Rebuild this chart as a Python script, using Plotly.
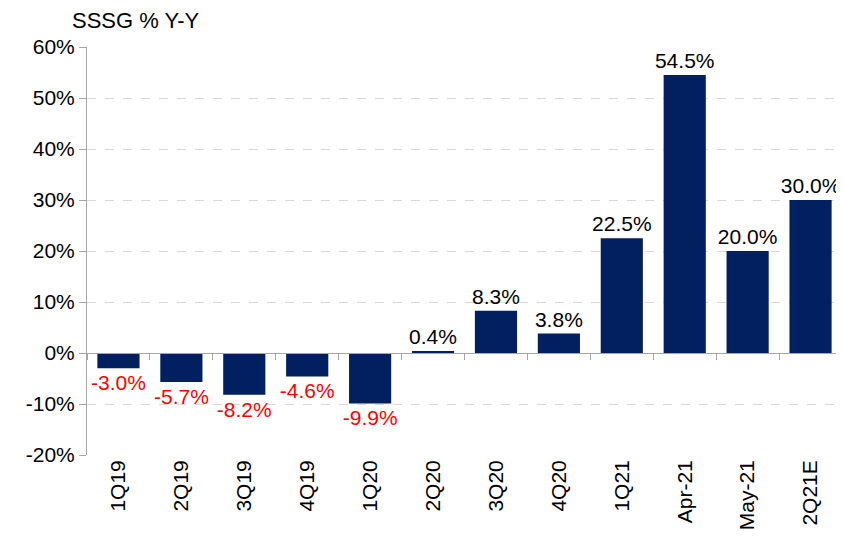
import plotly.graph_objects as go

categories = ["1Q19", "2Q19", "3Q19", "4Q19", "1Q20", "2Q20", "3Q20", "4Q20",
              "1Q21", "Apr-21", "May-21", "2Q21E"]
sssg = [-3.0, -5.7, -8.2, -4.6, -9.9, 0.4, 8.3, 3.8, 22.5, 54.5, 20.0, 30.0]
y_ticks = [-20, -10, 0, 10, 20, 30, 40, 50, 60]
y_tick_labels = [f"{v}%" for v in y_ticks]

FONT = "Liberation Sans, Arial, sans-serif"
label_colors = ["#ff0000" if v < 0 else "#000000" for v in sssg]

# page body has an 8px margin, so the figure is sized to fit the window
W, H = 836, 532

fig = go.Figure()
fig.add_trace(go.Bar(
    x=categories, y=sssg,
    marker=dict(color="#02205f", line=dict(width=0)),
    text=[f"{v:.1f}%" for v in sssg],
    textposition="outside",
    textangle=0,
    constraintext="none",
    textfont=dict(family=FONT, size=21, color=label_colors),
    cliponaxis=False,
    showlegend=False,
    hoverinfo="skip",
))
# invisible trace to drive the zero-line axis with tick marks
fig.add_trace(go.Scatter(x=categories, y=[0] * len(categories), xaxis="x2",
                         mode="markers", marker=dict(opacity=0),
                         showlegend=False, hoverinfo="skip"))

fig.update_layout(
    width=W, height=H,
    margin=dict(l=79, r=2, t=39, b=85, autoexpand=False),
    paper_bgcolor="white", plot_bgcolor="white",
    bargap=0.33,
    font=dict(family=FONT, size=21, color="#000000"),
    title=dict(text="SSSG % Y-Y", x=64 / W, xanchor="left",
               y=1 - 12 / H, yanchor="middle",
               font=dict(family=FONT, size=22, color="#000000")),
    xaxis=dict(type="category", categoryorder="array", categoryarray=categories,
               tickangle=-90, showline=False, ticks="", showgrid=False,
               zeroline=False, tickfont=dict(family=FONT, size=21),
               automargin=False, range=[-0.5, len(categories) - 0.5]),
    xaxis2=dict(type="category", categoryorder="array", categoryarray=categories,
                overlaying="x", anchor="free", position=0.25,
                showline=True, linecolor="#a6a6a6", linewidth=1,
                ticks="outside", tickson="boundaries", ticklen=6,
                tickcolor="#a6a6a6", showticklabels=False, showgrid=False,
                automargin=False, range=[-0.5, len(categories) - 0.5]),
    yaxis=dict(range=[-20, 60], tickvals=y_ticks, ticktext=y_tick_labels,
               showline=True, linecolor="#a6a6a6", linewidth=1,
               ticks="outside", ticklen=7, tickcolor="#a6a6a6",
               showgrid=True, gridcolor="#d9d9d9", griddash="dash", gridwidth=1,
               zeroline=False, automargin=False,
               tickfont=dict(family=FONT, size=21)),
)

fig.write_html("out.html")
